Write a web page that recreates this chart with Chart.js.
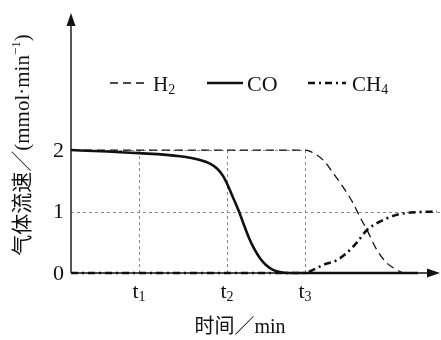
<!DOCTYPE html>
<html>
<head>
<meta charset="utf-8">
<script src="https://cdn.jsdelivr.net/npm/chart.js@4.4.0/dist/chart.umd.min.js"></script>
<style>
  html, body { margin: 0; padding: 0; background: #fff; }
  #wrap { width: 441px; height: 340px; position: relative; }
</style>
</head>
<body>
<div id="wrap"><canvas id="flowChart"></canvas></div>
<script>
// time axis (arbitrary units), tick marks t1..t3
const timeTicks = [6.8, 15.6, 23.4];
const timeSubs = ['1', '2', '3'];
const flowTicks = [0, 1, 2];

// CO flow
const coTime = [0, 6.8, 10.9, 12.9, 13.9, 14.6, 15.2, 15.7, 16.2, 16.8, 17.3, 17.8, 18.3, 18.9, 19.5, 20.2, 21.0, 21.9, 34.7];
const coFlow = [2.0, 1.95, 1.90, 1.84, 1.78, 1.70, 1.58, 1.42, 1.23, 1.0, 0.78, 0.57, 0.40, 0.24, 0.13, 0.05, 0.01, 0, 0];

// H2 flow
const h2Time = [0, 23.4, 23.9, 25.2, 26.2, 27.2, 28.2, 28.9, 29.6, 30.6, 31.6, 32.6, 33.2];
const h2Flow = [2, 2, 1.98, 1.84, 1.63, 1.40, 1.14, 0.91, 0.70, 0.37, 0.16, 0.05, 0];

// CH4 flow
const ch4Time = [0, 23.4, 24.2, 25.2, 26.6, 27.6, 28.6, 29.6, 30.6, 31.6, 32.9, 34.6, 36.6];
const ch4Flow = [0, 0, 0.05, 0.13, 0.21, 0.33, 0.50, 0.70, 0.81, 0.89, 0.96, 0.99, 1.0];

const SERIF = '"Liberation Serif", "Times New Roman", "Noto Sans CJK SC", serif';

function pts(xs, ys) {
  return xs.map((x, i) => ({ x: x, y: ys[i] }));
}

// text with a subscript part
function drawSub(ctx, base, sub, x, y, size, align) {
  ctx.font = size + 'px ' + SERIF;
  const w1 = ctx.measureText(base).width;
  const subSize = Math.round(size * 0.65);
  ctx.font = subSize + 'px ' + SERIF;
  const w2 = ctx.measureText(sub).width;
  let start = x;
  if (align === 'center') start = x - (w1 + w2) / 2;
  ctx.textAlign = 'left';
  ctx.textBaseline = 'alphabetic';
  ctx.font = size + 'px ' + SERIF;
  ctx.fillText(base, start, y);
  ctx.font = subSize + 'px ' + SERIF;
  ctx.fillText(sub, start + w1, y + size * 0.15);
  return w1 + w2;
}

const decor = {
  id: 'decor',
  beforeDatasetsDraw(chart) {
    const ctx = chart.ctx;
    const xs = chart.scales.x, ys = chart.scales.y;
    const y0 = ys.getPixelForValue(0), y1 = ys.getPixelForValue(1), y2 = ys.getPixelForValue(2);
    const x0 = xs.getPixelForValue(0);
    ctx.save();
    // dotted guide lines
    ctx.strokeStyle = '#8a8a8a';
    ctx.lineWidth = 1;
    ctx.setLineDash([3, 3]);
    timeTicks.forEach(t => {
      const px = Math.round(xs.getPixelForValue(t)) + 0.5;
      ctx.beginPath(); ctx.moveTo(px, y0); ctx.lineTo(px, y2); ctx.stroke();
    });
    ctx.beginPath(); ctx.moveTo(x0, Math.round(y1) + 0.5); ctx.lineTo(chart.width, Math.round(y1) + 0.5); ctx.stroke();
    ctx.beginPath(); ctx.moveTo(x0, Math.round(y2) + 0.5); ctx.lineTo(xs.getPixelForValue(timeTicks[2]), Math.round(y2) + 0.5); ctx.stroke();
    ctx.setLineDash([]);
    // axes
    ctx.strokeStyle = '#111';
    ctx.lineWidth = 1.4;
    ctx.beginPath();
    ctx.moveTo(x0, y0); ctx.lineTo(x0, chart.chartArea.top + 8);
    ctx.moveTo(x0, y0); ctx.lineTo(chart.chartArea.right - 8, y0);
    ctx.stroke();
    ctx.restore();
  },
  afterDraw(chart) {
    const ctx = chart.ctx;
    const xs = chart.scales.x, ys = chart.scales.y;
    const x0 = xs.getPixelForValue(0), y0 = ys.getPixelForValue(0);
    const top = chart.chartArea.top, right = chart.chartArea.right;
    ctx.save();
    ctx.fillStyle = '#111';
    // arrow heads
    ctx.beginPath();
    ctx.moveTo(x0, top); ctx.lineTo(x0 - 4.5, top + 13); ctx.lineTo(x0 + 4.5, top + 13); ctx.closePath(); ctx.fill();
    ctx.beginPath();
    ctx.moveTo(right, y0); ctx.lineTo(right - 13, y0 - 4.5); ctx.lineTo(right - 13, y0 + 4.5); ctx.closePath(); ctx.fill();

    // y tick labels
    ctx.font = '22px ' + SERIF;
    ctx.textAlign = 'right';
    ctx.textBaseline = 'middle';
    flowTicks.forEach(v => ctx.fillText(String(v), x0 - 7, ys.getPixelForValue(v) + 1));

    // x tick labels t1..t3
    timeTicks.forEach((t, i) => drawSub(ctx, 't', timeSubs[i], xs.getPixelForValue(t), y0 + 25, 22, 'center'));

    // x title
    ctx.font = '20px ' + SERIF;
    ctx.textAlign = 'center';
    ctx.textBaseline = 'alphabetic';
    ctx.fillText('时间／min', 240, 333);

    // y title (rotated)
    ctx.save();
    ctx.translate(29, 145);
    ctx.rotate(-Math.PI / 2);
    ctx.font = '21px ' + SERIF;
    const part1 = '气体流速／(mmol·min';
    const w1 = ctx.measureText(part1).width;
    ctx.font = '13px ' + SERIF;
    const w2 = ctx.measureText('−1').width;
    ctx.font = '21px ' + SERIF;
    const w3 = ctx.measureText(')').width;
    const sx = -(w1 + w2 + w3) / 2;
    ctx.textAlign = 'left';
    ctx.fillText(part1, sx, 0);
    ctx.font = '13px ' + SERIF;
    ctx.fillText('−1', sx + w1, -9);
    ctx.font = '21px ' + SERIF;
    ctx.fillText(')', sx + w1 + w2, 0);
    ctx.restore();

    // legend
    const ly = 83;
    ctx.strokeStyle = '#111';
    ctx.lineWidth = 1.3;
    ctx.setLineDash([8, 5]);
    ctx.beginPath(); ctx.moveTo(110, ly); ctx.lineTo(148, ly); ctx.stroke();
    ctx.lineWidth = 2.6;
    ctx.setLineDash([]);
    ctx.beginPath(); ctx.moveTo(207, ly); ctx.lineTo(243, ly); ctx.stroke();
    ctx.setLineDash([7, 4, 2, 4]);
    ctx.beginPath(); ctx.moveTo(308, ly); ctx.lineTo(346, ly); ctx.stroke();
    ctx.setLineDash([]);
    drawSub(ctx, 'H', '2', 153, ly + 8, 21, 'left');
    ctx.font = '22px ' + SERIF;
    ctx.textAlign = 'left';
    ctx.fillText('CO', 247, ly + 8);
    drawSub(ctx, 'CH', '4', 352, ly + 8, 21, 'left');
    ctx.restore();
  }
};

const ctx = document.getElementById('flowChart').getContext('2d');
new Chart(ctx, {
  type: 'line',
  data: {
    datasets: [
      {
        label: 'H2',
        data: pts(h2Time, h2Flow),
        borderColor: '#111',
        borderWidth: 1.3,
        borderDash: [8, 5],
        pointRadius: 0,
        cubicInterpolationMode: 'monotone',
        fill: false,
        clip: false
      },
      {
        label: 'CH4',
        data: pts(ch4Time, ch4Flow),
        borderColor: '#111',
        borderWidth: 2.6,
        borderDash: [7, 4, 2, 4],
        pointRadius: 0,
        cubicInterpolationMode: 'monotone',
        fill: false,
        clip: false
      },
      {
        label: 'CO',
        data: pts(coTime, coFlow),
        borderColor: '#111',
        borderWidth: 2.6,
        pointRadius: 0,
        cubicInterpolationMode: 'monotone',
        fill: false,
        clip: false
      }
    ]
  },
  options: {
    responsive: true,
    maintainAspectRatio: false,
    animation: false,
    layout: { padding: { left: 71, right: 1, top: 13, bottom: 67 } },
    plugins: { legend: { display: false }, tooltip: { enabled: false } },
    scales: {
      x: { type: 'linear', min: 0, max: 36.9, display: false },
      y: { type: 'linear', min: 0, max: 4.23, display: false }
    }
  },
  plugins: [decor]
});
</script>
</body>
</html>
